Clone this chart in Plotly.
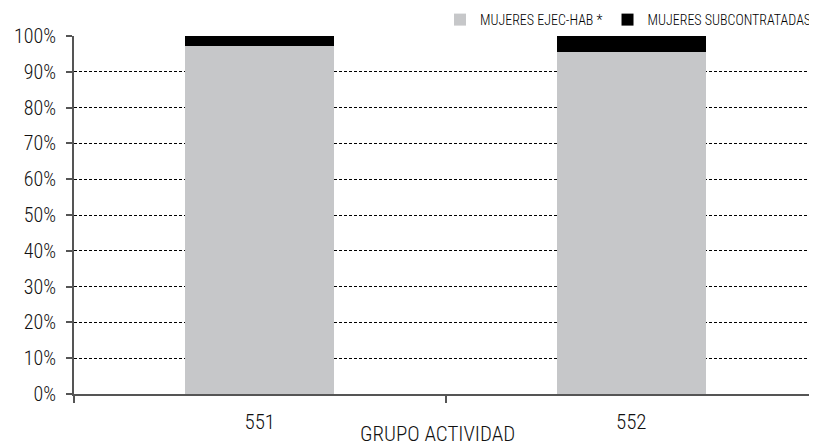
import plotly.graph_objects as go

# ── Datos ───────────────────────────────────────────────────────
GRUPOS = ["551", "552"]
EJEC_HAB = [97.2, 95.5]
SUBCONTRATADAS = [2.8, 4.5]
Y_TICKS = [0, 10, 20, 30, 40, 50, 60, 70, 80, 90, 100]

FONT = "Roboto Condensed, Arial Narrow, sans-serif"

fig = go.Figure()
fig.add_trace(go.Bar(
    x=GRUPOS, y=EJEC_HAB, name="MUJERES EJEC-HAB *",
    marker=dict(color="#c6c7c9", line_width=0), width=0.4,
))
fig.add_trace(go.Bar(
    x=GRUPOS, y=SUBCONTRATADAS, name="MUJERES SUBCONTRATADAS",
    marker=dict(color="#000000", line_width=0), width=0.4,
))

# la página tiene 8px de margen en el body: se compensa aquí
fig.update_layout(
    barmode="stack",
    width=809, height=434,
    paper_bgcolor="white", plot_bgcolor="white",
    font=dict(family=FONT, color="#111111", size=20, weight=300),
    margin=dict(l=66, r=0, t=28, b=48, autoexpand=False),
    showlegend=True,
    legend=dict(
        orientation="h", x=1.0, xanchor="right", y=1.0, yanchor="bottom",
        font=dict(size=14, weight=300, color="#000"), traceorder="normal",
        itemwidth=30, bgcolor="rgba(0,0,0,0)",
    ),
    xaxis=dict(
        type="category", range=[-0.5, 1.5],
        tickson="boundaries", ticks="outside", ticklen=7,
        tickcolor="#555", tickwidth=1.5,
        ticklabelstandoff=8,
        showline=True, linecolor="#555", linewidth=2,
        showgrid=False, automargin=False,
        tickfont=dict(size=21, weight=300),
    ),
    yaxis=dict(
        range=[0, 100], tickvals=Y_TICKS,
        ticktext=[f"{v}%" for v in Y_TICKS],
        ticks="outside", ticklen=6, tickcolor="#555", tickwidth=1.5,
        ticklabelstandoff=6,
        showline=True, linecolor="#555", linewidth=2,
        showgrid=True, gridcolor="#000000", gridwidth=1, griddash="3px,2px",
        zeroline=False, tickfont=dict(size=20, weight=300), automargin=False,
    ),
)

# título del eje x, algo desplazado a la izquierda como en el original
fig.add_annotation(
    text="GRUPO ACTIVIDAD", xref="paper", yref="paper",
    x=0.489, y=0, xanchor="center", yanchor="top", yshift=-26,
    showarrow=False, font=dict(size=21, weight=300),
)

fig.write_html("out.html")
